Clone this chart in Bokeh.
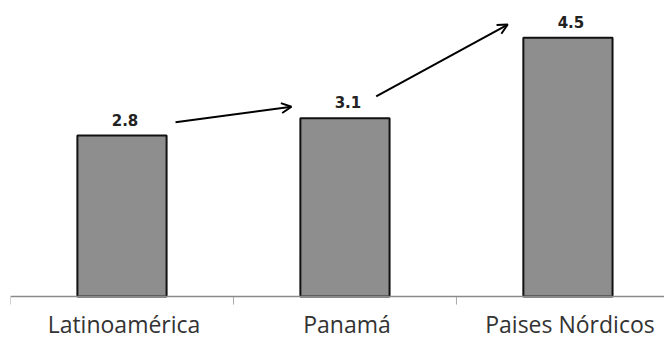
from bokeh.plotting import figure
from bokeh.models import ColumnDataSource, Range1d, Arrow, OpenHead, Span
from bokeh.core.properties import value
from bokeh.embed import file_html
from bokeh.resources import INLINE

categories = ["Latinoamérica", "Panamá", "Paises Nórdicos"]
values = [2.8, 3.1, 4.5]
value_labels = ["2.8", "3.1", "4.5"]

xs = [i + 0.5 for i in range(len(categories))]
bounds = [float(i) for i in range(len(categories) + 1)]

p = figure(width=664, height=341, output_backend="svg", toolbar_location=None,
           x_range=Range1d(0, 2.933), y_range=Range1d(-0.7826, 5.148),
           x_axis_type=None, y_axis_type=None,
           min_border_left=10, min_border_right=0, min_border_top=0, min_border_bottom=0)
p.outline_line_color = None
p.xgrid.visible = False
p.ygrid.visible = False
p.background_fill_color = "white"

# category axis line and boundary ticks
p.add_layout(Span(location=0, dimension="width", line_color="#8a8a8a", line_width=1.5))
p.segment(x0=bounds, y0=[0] * len(bounds), x1=bounds, y1=[-0.14] * len(bounds),
          line_color="#aaaaaa", line_width=1)

src = ColumnDataSource(dict(x=xs, top=values, lab=value_labels, cat=categories,
                            zero=[0] * len(xs)))
p.vbar(x="x", top="top", bottom=0, width=0.4, source=src,
       fill_color="#8e8e8e", line_color="#111111", line_width=2)

p.text(x="x", y="top", text="lab", source=src, text_align="center", text_baseline="bottom",
       y_offset=-10, x_offset=3, text_font=value("DejaVu Sans"), text_font_style="bold",
       text_font_size="15px", text_color="#222222")

# category labels
p.text(x="x", y="zero", text="cat", source=src, text_align="center",
       text_baseline="alphabetic", y_offset=27, x_offset=2,
       text_font=value("Open Sans"), text_font_size="23px", text_color="#333333")

# arrows between the value labels
arr = [(xs[0] + 0.24, values[0] + 0.23, xs[1] - 0.24, values[1] + 0.2),
       (xs[1] + 0.14, values[1] + 0.38, xs[2] - 0.27, values[2] + 0.23)]
for (x0, y0, x1, y1) in arr:
    p.add_layout(Arrow(x_start=x0, y_start=y0, x_end=x1, y_end=y1, line_width=2,
                       line_color="black",
                       end=OpenHead(size=10, line_width=2, line_color="black")))

open("out.html", "w").write(file_html(p, INLINE))
